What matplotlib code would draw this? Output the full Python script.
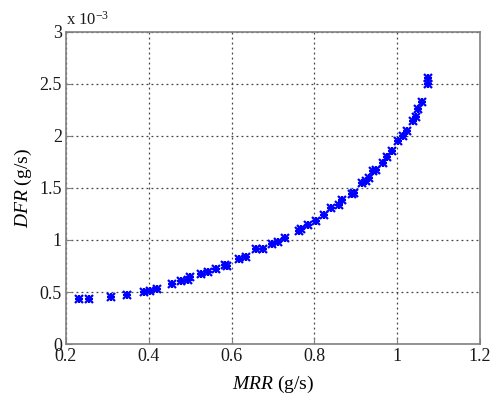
import matplotlib
matplotlib.use("Agg")
import matplotlib.pyplot as plt
from matplotlib.ticker import FuncFormatter, MultipleLocator

# MRR (g/s) and DFR (x 1e-3 g/s)
mrr = [
    0.231, 0.256, 0.309, 0.347, 0.388, 0.403, 0.421, 0.457, 0.478, 0.494,
    0.500, 0.527, 0.544, 0.562, 0.585, 0.589, 0.619, 0.636, 0.659, 0.677,
    0.698, 0.713, 0.730, 0.762, 0.768, 0.785, 0.803, 0.824, 0.841, 0.859,
    0.867, 0.891, 0.896, 0.915, 0.925, 0.932, 0.942, 0.949, 0.966, 0.975,
    0.987, 1.003, 1.013, 1.024, 1.038, 1.045, 1.050, 1.061, 1.074, 1.075,
]
dfr_e3 = [
    0.433, 0.433, 0.452, 0.471, 0.497, 0.505, 0.526, 0.577, 0.601, 0.620,
    0.644, 0.673, 0.697, 0.721, 0.764, 0.750, 0.817, 0.841, 0.909, 0.913,
    0.962, 0.984, 1.019, 1.088, 1.101, 1.144, 1.183, 1.242, 1.303, 1.332,
    1.389, 1.442, 1.455, 1.545, 1.570, 1.593, 1.663, 1.673, 1.738, 1.801,
    1.859, 1.949, 2.000, 2.051, 2.147, 2.186, 2.257, 2.324, 2.500, 2.561,
]
dfr = [v * 1e-3 for v in dfr_e3]

plt.rcParams.update({
    "font.family": ["Liberation Serif", "DejaVu Serif"],
    "mathtext.fontset": "custom",
    "mathtext.rm": "Liberation Serif",
    "mathtext.it": "Liberation Serif:italic",
})

fig = plt.figure(figsize=(4.91, 3.97), dpi=100)
ax = fig.add_axes([0.1344, 0.1335, 0.8432, 0.7859])

# matlab-style '*' marker: plus and cross drawn on top of each other
for mk in ["+", "x"]:
    ax.plot(mrr, dfr, linestyle="none", marker=mk, markersize=5.5,
            markeredgewidth=1.6, color="#0000ff")

ax.set_xlim(0.2, 1.2)
ax.set_ylim(0, 3e-3)
ax.xaxis.set_major_locator(MultipleLocator(0.2))
ax.yaxis.set_major_locator(MultipleLocator(0.5e-3))
ax.xaxis.set_major_formatter(FuncFormatter(lambda v, p: f"{v:g}"))
ax.yaxis.set_major_formatter(FuncFormatter(lambda v, p: f"{v * 1e3:g}"))

ax.grid(True, linestyle=(0, (1.5, 2.5)), color="#444444", linewidth=0.9)
for s in ax.spines.values():
    s.set_color("#808080")
    s.set_linewidth(1.2)
ax.tick_params(direction="in", length=4, color="#808080", labelsize=13,
               labelcolor="#1a1a1a", pad=3)

ax.text(0.0, 1.012, r"x 10$^{-3}$", transform=ax.transAxes, fontsize=12,
        ha="left", va="bottom", color="#1a1a1a")

ax.set_xlabel(r"$\mathit{MRR}$ (g/s)", fontsize=14, labelpad=6)
ax.set_ylabel(r"$\mathit{DFR}$ (g/s)", fontsize=14, labelpad=4)

fig.savefig("out.png", dpi=100)
